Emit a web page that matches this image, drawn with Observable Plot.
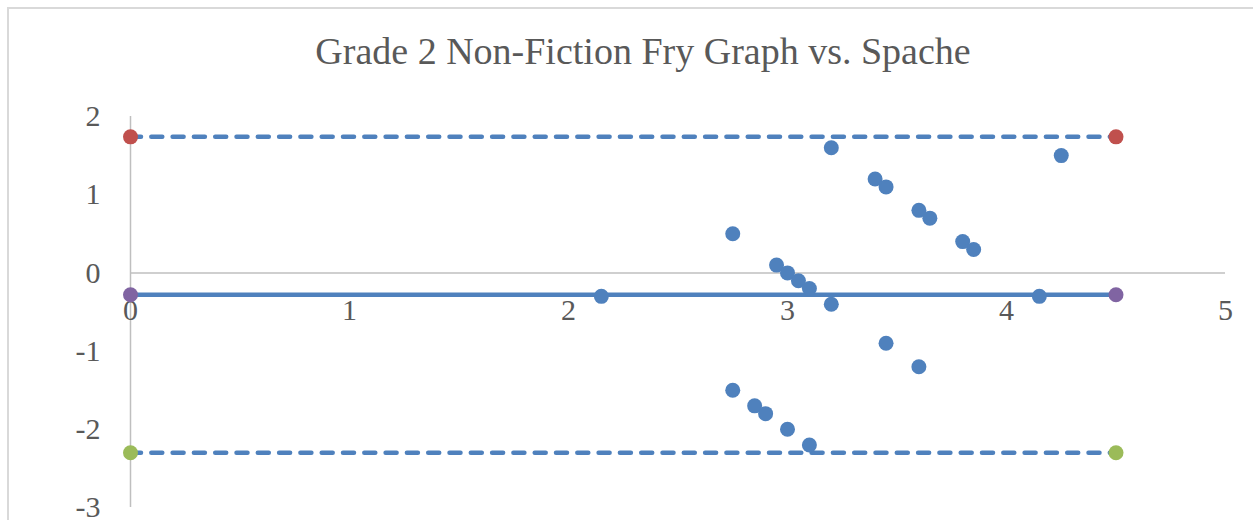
<!DOCTYPE html>
<html>
<head>
<meta charset="utf-8">
<script src="https://cdn.jsdelivr.net/npm/d3@7"></script>
<script src="https://cdn.jsdelivr.net/npm/@observablehq/plot@0.6"></script>
<style>
  html, body { margin: 0; padding: 0; background: #fff; }
  #wrap { position: relative; width: 1253px; height: 520px; overflow: hidden; background: #fff; }
  #frame { position: absolute; left: 7px; top: 7px; width: 1300px; height: 600px; border: 2px solid #d9d9d9; box-sizing: border-box; pointer-events: none; }
  #title { position: absolute; left: 0; top: 32px; width: 1286px; text-align: center; font-family: "Liberation Serif", "Times New Roman", serif; font-size: 38px; line-height: 1; color: #595959; }
  #chart { position: absolute; left: 0; top: 96px; }
  #chart svg { overflow: visible; }
</style>
</head>
<body>
<div id="wrap">
  <div id="frame"></div>
  <div id="title">Grade 2 Non-Fiction Fry Graph vs. Spache</div>
  <div id="chart"></div>
</div>
<script>
// Scatter points (average score, difference)
const xVals = [2.15, 2.75, 2.75, 2.95, 3.0, 3.05, 3.1, 3.2, 3.2, 3.4, 3.45, 3.45, 3.6, 3.65, 3.6, 3.8, 3.85, 4.15, 4.25, 2.85, 2.9, 3.0, 3.1];
const yVals = [-0.3, 0.5, -1.5, 0.1, 0.0, -0.1, -0.2, 1.6, -0.4, 1.2, 1.1, -0.9, 0.8, 0.7, -1.2, 0.4, 0.3, -0.3, 1.5, -1.7, -1.8, -2.0, -2.2];

// Reference lines: mean difference and limits of agreement
const lineStart = 0;
const lineEnd = 4.5;
const meanDiff = -0.28;
const upperLimit = 1.74;
const lowerLimit = -2.30;

// Axis ticks
const xTicks = [0, 1, 2, 3, 4, 5];
const yTicks = [-3, -2, -1, 0, 1, 2];

const points = xVals.map((x, i) => ({x, y: yVals[i]}));
const limits = [
  {x1: lineStart, x2: lineEnd, y: upperLimit},
  {x1: lineStart, x2: lineEnd, y: lowerLimit}
];
const markers = [
  {x: lineStart, y: upperLimit, c: "#c0504d"},
  {x: lineEnd, y: upperLimit, c: "#c0504d"},
  {x: lineStart, y: meanDiff, c: "#8064a2"},
  {x: lineEnd, y: meanDiff, c: "#8064a2"},
  {x: lineStart, y: lowerLimit, c: "#9bbb59"},
  {x: lineEnd, y: lowerLimit, c: "#9bbb59"}
];

const blue = "#4f81bd";
const grey = "#bfbfbf";
const txt = "#595959";

const chart = Plot.plot({
  width: 1253,
  height: 424,
  marginLeft: 130,
  marginRight: 28,
  marginTop: 20,
  marginBottom: 13,
  style: {fontFamily: "'Liberation Serif', 'Times New Roman', serif", fontSize: "30px", color: txt, background: "transparent"},
  x: {domain: [0, 5], axis: null},
  y: {domain: [-3, 2]},
  marks: [
    Plot.axisY({ticks: yTicks, tickSize: 0, tickPadding: 30, tickFormat: d => String(d), label: null, fontSize: 30, fill: txt}),
    Plot.ruleY([0], {stroke: grey, strokeWidth: 1.5}),
    Plot.ruleX([0], {stroke: grey, strokeWidth: 1.5}),
    Plot.text(xTicks, {x: d => d, y: () => 0, text: d => String(d), dy: 37, lineAnchor: "middle", textAnchor: "middle", fontSize: 30, fill: txt}),
    Plot.ruleY(limits, {x1: "x1", x2: "x2", y: "y", stroke: blue, strokeWidth: 4.5, strokeDasharray: "11 10.3", strokeLinecap: "round"}),
    Plot.ruleY([meanDiff], {x1: lineStart, x2: lineEnd, stroke: blue, strokeWidth: 4.5}),
    Plot.dot(points, {x: "x", y: "y", r: 7.5, fill: blue, stroke: "none"}),
    Plot.dot(markers, {x: "x", y: "y", r: 7.5, fill: "c", stroke: "none"})
  ]
});
document.getElementById("chart").appendChild(chart);
</script>
</body>
</html>
